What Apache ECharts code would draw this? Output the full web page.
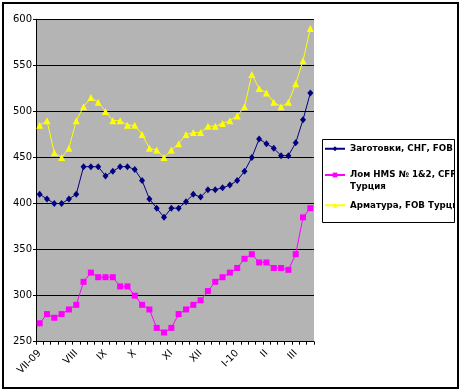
<!DOCTYPE html>
<html>
<head>
<meta charset="utf-8">
<script src="https://cdn.jsdelivr.net/npm/echarts@6/dist/echarts.min.js"></script>
<style>
html,body{margin:0;padding:0;background:#fff;}
#chart{width:463px;height:392px;}
</style>
</head>
<body>
<div id="chart"></div>
<script>
// Weekly categories (label shown on the first week of each month)
const categories = ['VII-09','','','','','VIII','','','','IX','','','','X','','','','','XI','','','','XII','','','','','I-10','','','','II','','','','III','',''];

const seriesNames = ['Заготовки, СНГ, FOB', 'Лом HMS № 1&2, CFR Турция', 'Арматура, FOB Турция'];

const billets = [410,405,400,400,405,410,440,440,440,430,435,440,440,437,425,405,395,385,395,395,402,410,407,415,415,417,420,425,435,450,470,465,460,452,452,466,491,520];
const scrap = [270,280,276,280,285,290,315,325,320,320,320,310,310,300,290,285,265,260,265,280,285,290,295,305,315,320,325,330,340,345,336,336,330,330,328,345,385,395];
const rebar = [485,490,455,450,460,490,505,515,510,500,490,490,485,485,475,460,458,450,458,465,475,477,477,484,484,487,490,495,505,540,525,520,510,505,510,530,555,590];

const yTicks = [250,300,350,400,450,500,550,600];

const chart = echarts.init(document.getElementById('chart'), null, {renderer: 'canvas'});

function legendText() {
  return {fontFamily: 'DejaVu Sans', fontSize: 8.7, fontWeight: 'bold', color: '#000', lineHeight: 11.5};
}

const option = {
  backgroundColor: '#ffffff',
  animation: false,
  grid: {left: 36, right: 149, top: 19.3, bottom: 50.3, show: true, backgroundColor: '#b4b4b4', borderWidth: 0},
  graphic: [
    {type: 'rect', z: 1, silent: true, shape: {x: 322.5, y: 139.5, width: 132, height: 83}, style: {fill: '#fff', stroke: '#000', lineWidth: 1}},
    {type: 'rect', z: 20, silent: true, shape: {x: 455, y: 138, width: 8, height: 86}, style: {fill: '#fff'}},
    {type: 'rect', z: 21, silent: true, shape: {x: 3, y: 3, width: 455, height: 385}, style: {fill: 'none', stroke: '#000', lineWidth: 2}}
  ],
  legend: [
    {data: [seriesNames[0]], left: 324, top: 143, orient: 'vertical', z: 10, itemWidth: 20, itemHeight: 6, padding: 0,
     textStyle: legendText()},
    {data: [seriesNames[1]], left: 324, top: 157.75, orient: 'vertical', z: 10, itemWidth: 20, itemHeight: 6, padding: 0,
     formatter: function (name) { return '\n' + name.replace(', CFR ', ', CFR\n'); },
     textStyle: legendText()},
    {data: [seriesNames[2]], left: 324, top: 199.5, orient: 'vertical', z: 10, itemWidth: 20, itemHeight: 6, padding: 0,
     textStyle: legendText()}
  ],
  xAxis: {
    type: 'category',
    data: categories,
    boundaryGap: true,
    axisLine: {lineStyle: {color: '#000', width: 1}},
    axisTick: {show: true, interval: 0, length: 3, lineStyle: {color: '#000'}},
    axisLabel: {interval: 0, rotate: 45, margin: 10, fontFamily: 'DejaVu Sans', fontSize: 10, color: '#000'},
    splitLine: {show: false}
  },
  yAxis: {
    type: 'value',
    min: yTicks[0],
    max: yTicks[yTicks.length - 1],
    interval: yTicks[1] - yTicks[0],
    axisLine: {show: true, lineStyle: {color: '#000', width: 1}},
    axisTick: {show: true, length: 3, lineStyle: {color: '#000'}},
    axisLabel: {margin: 4, fontFamily: 'DejaVu Sans', fontSize: 10, color: '#000'},
    splitLine: {show: true, lineStyle: {color: '#000', width: 1}}
  },
  series: [
    {name: seriesNames[0], type: 'line', data: billets, symbol: 'diamond', symbolSize: [6,7], showAllSymbol: true,
     itemStyle: {color: '#000080'}, lineStyle: {color: '#000080', width: 1}},
    {name: seriesNames[1], type: 'line', data: scrap, symbol: 'rect', symbolSize: 6, showAllSymbol: true,
     itemStyle: {color: '#ff00ff'}, lineStyle: {color: '#ff00ff', width: 1}},
    {name: seriesNames[2], type: 'line', data: rebar, symbol: 'triangle', symbolSize: 7, showAllSymbol: true,
     itemStyle: {color: '#ffff00'}, lineStyle: {color: '#ffff00', width: 1}}
  ]
};
chart.setOption(option);
</script>
</body>
</html>
